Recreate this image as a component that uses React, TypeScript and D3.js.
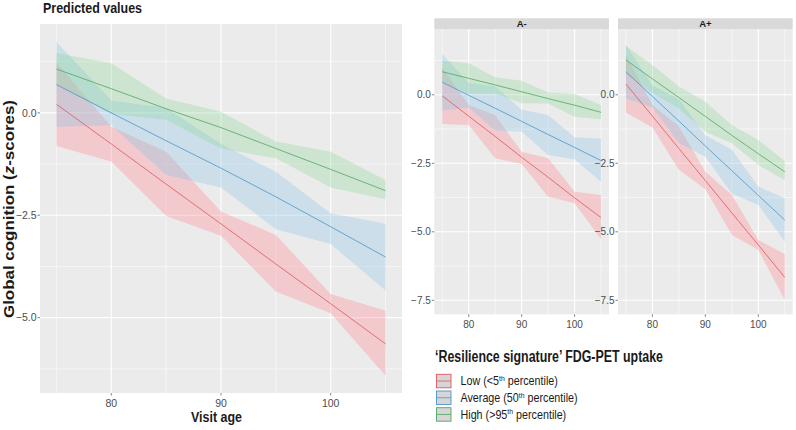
import React from "react";
import * as d3 from "d3";

// visit ages where the model was evaluated
const ages = [75, 80, 85, 90, 95, 100, 105];

// all participants (left panel)
const allLowFit = [0.21, -0.76, -1.74, -2.71, -3.69, -4.66, -5.64];
const allLowHi = [1.23, -0.34, -0.95, -2.41, -2.98, -4.42, -4.83];
const allLowLo = [-0.81, -1.19, -2.52, -3.0, -4.36, -4.89, -6.42];
const allAvgFit = [0.69, 0.0, -0.68, -1.35, -2.05, -2.78, -3.52];
const allAvgHi = [1.73, 0.3, 0.12, -0.76, -1.44, -2.45, -2.71];
const allAvgLo = [-0.34, -0.3, -1.52, -1.82, -2.84, -3.2, -4.34];
const allHighFit = [1.07, 0.59, 0.1, -0.36, -0.87, -1.38, -1.9];
const allHighHi = [1.46, 1.21, 0.35, 0.03, -0.7, -0.95, -1.64];
const allHighLo = [0.68, -0.03, -0.17, -0.87, -1.11, -1.82, -2.11];

// amyloid negative
const negLowFit = [-0.04, -0.78, -1.52, -2.28, -3.01, -3.76, -4.48];
const negLowHi = [0.99, -0.37, -0.75, -2.08, -2.32, -3.54, -3.66];
const negLowLo = [-1.07, -1.1, -2.32, -2.53, -3.72, -3.96, -5.27];
const negAvgFit = [0.46, -0.02, -0.49, -0.97, -1.45, -1.92, -2.4];
const negAvgHi = [1.49, 0.43, 0.3, -0.55, -0.74, -1.55, -1.6];
const negAvgLo = [-0.57, -0.47, -1.3, -1.35, -2.2, -2.35, -3.17];
const negHighFit = [0.84, 0.6, 0.36, 0.11, -0.14, -0.38, -0.64];
const negHighHi = [1.24, 1.15, 0.64, 0.51, 0.08, 0.03, -0.37];
const negHighLo = [0.44, 0.05, 0.05, -0.31, -0.32, -0.8, -0.89];

// amyloid positive
const posLowFit = [0.39, -0.78, -1.96, -3.13, -4.31, -5.48, -6.66];
const posLowHi = [1.43, -0.37, -1.16, -2.81, -3.65, -5.3, -5.81];
const posLowLo = [-0.65, -1.19, -2.74, -3.45, -5.11, -5.66, -7.48];
const posAvgFit = [0.84, -0.06, -0.96, -1.87, -2.77, -3.67, -4.57];
const posAvgHi = [1.82, 0.34, -0.16, -1.48, -2.01, -3.35, -3.78];
const posAvgLo = [-0.14, -0.46, -1.76, -2.26, -3.6, -4.02, -5.36];
const posHighFit = [1.27, 0.58, -0.1, -0.79, -1.48, -2.15, -2.81];
const posHighHi = [1.78, 1.09, 0.3, -0.25, -1.1, -1.65, -2.42];
const posHighLo = [0.76, 0.07, -0.5, -1.35, -1.77, -2.56, -3.12];

const xMajor = [80, 90, 100];
const xMinor = [75, 85, 95, 105];
const yMajor = [0, -2.5, -5, -7.5];
const yMinor = [1.25, -1.25, -3.75, -6.25];

const lineColors = ["#E0555E", "#4D95C8", "#4FA862"];
const fillColors = ["#FF8C95", "#80C0E8", "#87D391"];
const fillOpacity = [0.35, 0.3, 0.3];

const FONT = "'Liberation Sans', Arial, sans-serif";

type Band = { fit: number[]; lo: number[]; hi: number[] };

const Panel: React.FC<{
  left: number;
  right: number;
  top: number;
  bottom: number;
  yDomain: [number, number];
  bands: Band[];
  strip?: string;
  tickFont: number;
}> = ({ left, right, top, bottom, yDomain, bands, strip, tickFont }) => {
  const x = d3.scaleLinear().domain([73.5, 106.5]).range([left, right]);
  const y = d3.scaleLinear().domain(yDomain).range([bottom, top]);
  const inY = (v: number) => v >= yDomain[0] && v <= yDomain[1];

  const area = (b: Band) =>
    d3
      .area<number>()
      .x((a) => x(a))
      .y0((_, i) => y(b.lo[i]))
      .y1((_, i) => y(b.hi[i]))(ages) || "";
  const line = (b: Band) =>
    d3
      .line<number>()
      .x((a) => x(a))
      .y((_, i) => y(b.fit[i]))(ages) || "";

  return (
    <g>
      {strip && (
        <g>
          <rect x={left} y={top - 10.7} width={right - left} height={10.7} fill="#D9D9D9" />
          <text
            x={(left + right) / 2}
            y={top - 2.4}
            textAnchor="middle"
            fontSize={9.5}
            fontWeight="bold"
            fill="#1A1A1A"
          >
            {strip}
          </text>
        </g>
      )}
      <rect x={left} y={top} width={right - left} height={bottom - top} fill="#EBEBEB" />
      {yMinor.filter(inY).map((v) => (
        <line key={"ym" + v} x1={left} x2={right} y1={y(v)} y2={y(v)} stroke="#fff" strokeWidth={0.55} />
      ))}
      {xMinor.map((v) => (
        <line key={"xm" + v} x1={x(v)} x2={x(v)} y1={top} y2={bottom} stroke="#fff" strokeWidth={0.55} />
      ))}
      {yMajor.filter(inY).map((v) => (
        <line key={"yM" + v} x1={left} x2={right} y1={y(v)} y2={y(v)} stroke="#fff" strokeWidth={1.1} />
      ))}
      {xMajor.map((v) => (
        <line key={"xM" + v} x1={x(v)} x2={x(v)} y1={top} y2={bottom} stroke="#fff" strokeWidth={1.1} />
      ))}
      {bands.map((b, i) => (
        <path key={"r" + i} d={area(b)} fill={fillColors[i]} fillOpacity={fillOpacity[i]} />
      ))}
      {bands.map((b, i) => (
        <path key={"l" + i} d={line(b)} fill="none" stroke={lineColors[i]} strokeWidth={0.8} />
      ))}
      {yMajor.filter(inY).map((v) => (
        <g key={"yt" + v}>
          <line x1={left - 2.5} x2={left} y1={y(v)} y2={y(v)} stroke="#333" strokeWidth={0.6} />
          <text
            x={left - 3.5}
            y={y(v)}
            dy="0.35em"
            textAnchor="end"
            fontSize={tickFont}
            fill="#4D4D4D"
          >
            {d3.format(".1f")(v)}
          </text>
        </g>
      ))}
      {xMajor.map((v) => (
        <g key={"xt" + v}>
          <line x1={x(v)} x2={x(v)} y1={bottom} y2={bottom + 2.5} stroke="#333" strokeWidth={0.6} />
          <text x={x(v)} y={bottom + 13.5} textAnchor="middle" fontSize={tickFont} fill="#4D4D4D">
            {v}
          </text>
        </g>
      ))}
    </g>
  );
};

const legendItems = [
  { pre: "Low (<5", post: " percentile)" },
  { pre: "Average (50", post: " percentile)" },
  { pre: "High (>95", post: " percentile)" },
];

export default function App() {
  const allBands: Band[] = [
    { fit: allLowFit, lo: allLowLo, hi: allLowHi },
    { fit: allAvgFit, lo: allAvgLo, hi: allAvgHi },
    { fit: allHighFit, lo: allHighLo, hi: allHighHi },
  ];
  const negBands: Band[] = [
    { fit: negLowFit, lo: negLowLo, hi: negLowHi },
    { fit: negAvgFit, lo: negAvgLo, hi: negAvgHi },
    { fit: negHighFit, lo: negHighLo, hi: negHighHi },
  ];
  const posBands: Band[] = [
    { fit: posLowFit, lo: posLowLo, hi: posLowHi },
    { fit: posAvgFit, lo: posAvgLo, hi: posAvgHi },
    { fit: posHighFit, lo: posHighLo, hi: posHighHi },
  ];

  return (
    <svg
      width={796}
      height={430}
      style={{ position: "absolute", left: 0, top: 0, background: "#fff" }}
      fontFamily={FONT}
    >
      <text
        x={43}
        y={13.3}
        fontSize={14}
        fontWeight="bold"
        fill="#1A1A1A"
        textLength={99}
        lengthAdjust="spacingAndGlyphs"
      >
        Predicted values
      </text>
      <Panel left={40} right={402} top={24} bottom={393} yDomain={[-6.84, 2.17]} bands={allBands} tickFont={10.5} />
      <text
        transform="translate(14,209) rotate(-90)"
        textAnchor="middle"
        fontSize={15}
        fontWeight="bold"
        fill="#1A1A1A"
        textLength={218}
        lengthAdjust="spacingAndGlyphs"
      >
        Global cognition (<tspan fontStyle="italic">z</tspan>-scores)
      </text>
      <text
        x={216.5}
        y={421.5}
        textAnchor="middle"
        fontSize={15}
        fontWeight="bold"
        fill="#1A1A1A"
        textLength={51}
        lengthAdjust="spacingAndGlyphs"
      >
        Visit age
      </text>

      <Panel
        left={434.3}
        right={609}
        top={29}
        bottom={314.3}
        yDomain={[-8.01, 2.4]}
        bands={negBands}
        strip="A-"
        tickFont={10}
      />
      <Panel
        left={618}
        right={792.7}
        top={29}
        bottom={314.3}
        yDomain={[-8.01, 2.4]}
        bands={posBands}
        strip="A+"
        tickFont={10}
      />

      <text
        x={435}
        y={362}
        fontSize={16}
        fontWeight="bold"
        fill="#1A1A1A"
        textLength={228}
        lengthAdjust="spacingAndGlyphs"
      >
        {"\u2018Resilience signature\u2019 FDG-PET uptake"}
      </text>
      {legendItems.map((it, i) => {
        const top = 374.3 + i * 16.7;
        return (
          <g key={it.pre}>
            <rect x={436.5} y={top} width={14.5} height={13.5} fill="#D6D6D6" stroke={lineColors[i]} strokeWidth={0.9} />
            <line x1={436.5} x2={451} y1={top + 6.75} y2={top + 6.75} stroke={lineColors[i]} strokeWidth={0.8} />
            <g transform={`translate(460.5,${top + 11}) scale(0.86,1)`}>
              <text x={0} y={0} fontSize={12.5} fill="#1A1A1A">
                {it.pre}
                <tspan dy={-4.5} fontSize={8}>
                  th
                </tspan>
                <tspan dy={4.5}>{it.post}</tspan>
              </text>
            </g>
          </g>
        );
      })}
    </svg>
  );
}
